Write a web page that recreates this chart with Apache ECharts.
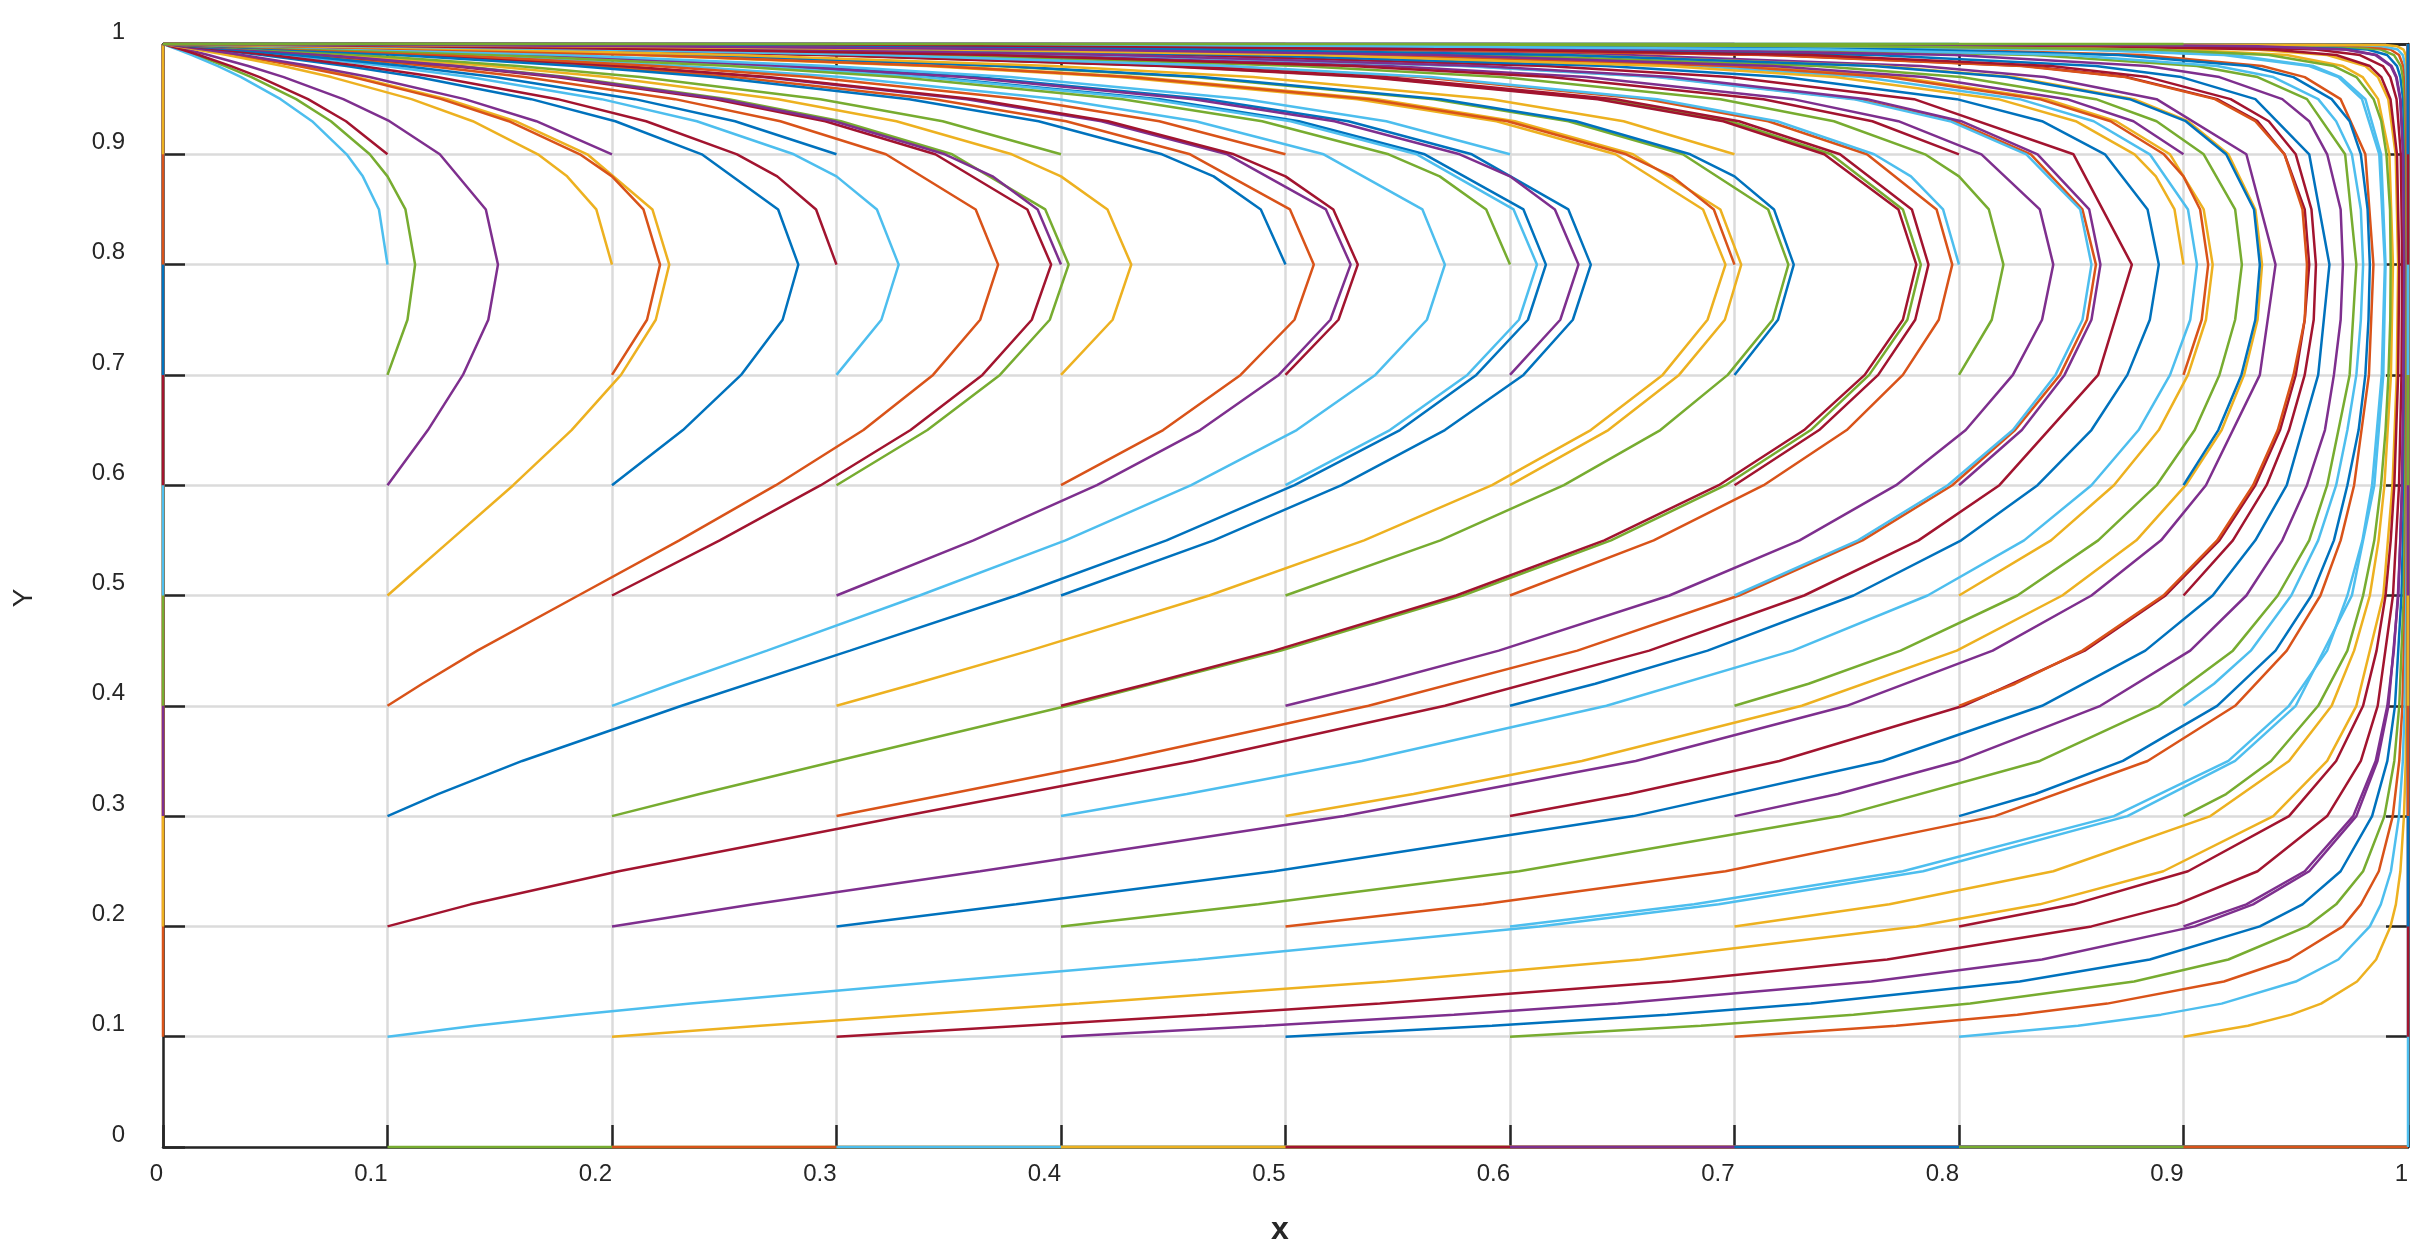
<!DOCTYPE html>
<html>
<head>
<meta charset="utf-8">
<title>Trajectories</title>
<script src="https://cdn.jsdelivr.net/npm/echarts@6.0.0/dist/echarts.min.js"></script>
<style>
  html, body { margin: 0; padding: 0; background: #ffffff; }
  #chart { width: 2436px; height: 1260px; }
</style>
</head>
<body>
<div id="chart"></div>
<script>
// start grid, also the ticks of both axes
const ticks = [0, 0.1, 0.2, 0.3, 0.4, 0.5, 0.6, 0.7, 0.8, 0.9, 1];
const tickLabels = ['0', '0.1', '0.2', '0.3', '0.4', '0.5', '0.6', '0.7', '0.8', '0.9', '1'];
const lineColors = ['#0072BD', '#D95319', '#EDB120', '#7E2F8E', '#77AC30', '#4DBEEE', '#A2142F'];
// every trajectory ends in the corner (0, 1)
const sink = [0, 1];

// row y0 = 0.1 : y levels, then x read at those levels for x0 = 0.1 ... 0.9
const yRow1 = [0.1, 0.11, 0.12, 0.13, 0.15, 0.17, 0.2, 0.22, 0.25, 0.3, 0.35, 0.4, 0.5, 0.6, 0.7, 0.8, 0.9, 0.95, 0.97, 0.98, 0.99, 0.995, 0.998, 0.999];
const xRow1 = [
  [0.1, 0.139, 0.184, 0.235, 0.347, 0.461, 0.613, 0.693, 0.784, 0.875, 0.923, 0.95, 0.975, 0.985, 0.989, 0.99, 0.988, 0.981, 0.97, 0.958, 0.922, 0.858, 0.71, 0.552],
  [0.2, 0.266, 0.336, 0.408, 0.545, 0.658, 0.781, 0.836, 0.891, 0.94, 0.964, 0.977, 0.989, 0.9931, 0.995, 0.9956, 0.9945, 0.9912, 0.9866, 0.981, 0.964, 0.932, 0.846, 0.735],
  [0.3, 0.383, 0.465, 0.542, 0.672, 0.768, 0.859, 0.897, 0.933, 0.964, 0.979, 0.9865, 0.9933, 0.996, 0.9971, 0.9974, 0.9968, 0.9949, 0.9921, 0.9888, 0.9786, 0.959, 0.904, 0.826],
  [0.4, 0.491, 0.575, 0.648, 0.761, 0.837, 0.905, 0.931, 0.956, 0.977, 0.9864, 0.9913, 0.9957, 0.9974, 0.9981, 0.9984, 0.9979, 0.9967, 0.9949, 0.9927, 0.9861, 0.973, 0.936, 0.881],
  [0.5, 0.592, 0.67, 0.734, 0.827, 0.885, 0.934, 0.953, 0.97, 0.984, 0.9908, 0.9942, 0.9971, 0.9983, 0.9987, 0.9989, 0.9986, 0.9978, 0.9966, 0.9951, 0.9907, 0.982, 0.9566, 0.917],
  [0.6, 0.685, 0.753, 0.805, 0.878, 0.92, 0.955, 0.968, 0.98, 0.9895, 0.9939, 0.9961, 0.9981, 0.9988, 0.9992, 0.9993, 0.9991, 0.9985, 0.9977, 0.9968, 0.9938, 0.9879, 0.9706, 0.943],
  [0.7, 0.772, 0.826, 0.866, 0.918, 0.947, 0.971, 0.979, 0.987, 0.9932, 0.9961, 0.9975, 0.9988, 0.9993, 0.9995, 0.9995, 0.9994, 0.999, 0.9986, 0.9979, 0.996, 0.9922, 0.981, 0.9627],
  [0.8, 0.853, 0.89, 0.917, 0.95, 0.969, 0.983, 0.9879, 0.9924, 0.996, 0.9977, 0.9985, 0.9993, 0.9996, 0.9997, 0.9997, 0.9997, 0.9995, 0.9992, 0.9988, 0.9977, 0.9954, 0.9888, 0.978],
  [0.9, 0.9287, 0.948, 0.9613, 0.9773, 0.9858, 0.9922, 0.9946, 0.9966, 0.9982, 0.999, 0.9994, 0.9997, 0.9998, 0.9999, 0.9999, 0.9999, 0.9998, 0.9996, 0.9995, 0.999, 0.998, 0.995, 0.99]
];

const yRow2 = [0.2, 0.22, 0.25, 0.3, 0.35, 0.4, 0.45, 0.5, 0.55, 0.6, 0.7, 0.8, 0.9, 0.95, 0.97, 0.98, 0.99, 0.995, 0.998, 0.999];
const xRow2 = [
  [0.1, 0.137, 0.203, 0.33, 0.459, 0.571, 0.662, 0.731, 0.782, 0.818, 0.862, 0.877, 0.851, 0.78, 0.698, 0.616, 0.455, 0.299, 0.147, 0.08],
  [0.2, 0.263, 0.364, 0.526, 0.656, 0.75, 0.815, 0.859, 0.89, 0.91, 0.934, 0.941, 0.928, 0.888, 0.838, 0.783, 0.652, 0.489, 0.279, 0.163],
  [0.3, 0.38, 0.495, 0.655, 0.766, 0.837, 0.883, 0.913, 0.932, 0.946, 0.96, 0.965, 0.956, 0.932, 0.899, 0.861, 0.763, 0.621, 0.399, 0.25],
  [0.4, 0.488, 0.604, 0.747, 0.836, 0.889, 0.922, 0.942, 0.956, 0.964, 0.974, 0.977, 0.972, 0.955, 0.933, 0.906, 0.833, 0.719, 0.508, 0.342],
  [0.5, 0.588, 0.696, 0.816, 0.884, 0.923, 0.946, 0.961, 0.97, 0.976, 0.9826, 0.9846, 0.981, 0.97, 0.954, 0.935, 0.882, 0.793, 0.608, 0.438],
  [0.6, 0.682, 0.775, 0.869, 0.92, 0.947, 0.964, 0.973, 0.9797, 0.984, 0.9883, 0.9897, 0.9872, 0.9795, 0.969, 0.956, 0.918, 0.852, 0.699, 0.539],
  [0.7, 0.769, 0.842, 0.912, 0.947, 0.966, 0.976, 0.983, 0.9869, 0.9895, 0.9924, 0.9933, 0.9917, 0.9867, 0.9798, 0.971, 0.946, 0.899, 0.783, 0.645],
  [0.8, 0.851, 0.902, 0.947, 0.968, 0.98, 0.986, 0.99, 0.9923, 0.9939, 0.9956, 0.9961, 0.9951, 0.9922, 0.9881, 0.983, 0.968, 0.939, 0.861, 0.757],
  [0.9, 0.928, 0.954, 0.9756, 0.9856, 0.9908, 0.9937, 0.9955, 0.9966, 0.9973, 0.998, 0.9983, 0.9978, 0.9965, 0.9947, 0.9923, 0.9854, 0.972, 0.933, 0.875]
];

const yRow3 = [0.3, 0.32, 0.35, 0.4, 0.45, 0.5, 0.55, 0.6, 0.65, 0.7, 0.75, 0.8, 0.85, 0.9, 0.93, 0.95, 0.97, 0.98, 0.99, 0.995, 0.998, 0.999];
const xRow3 = [
  [0.1, 0.1225, 0.16, 0.231, 0.306, 0.38, 0.447, 0.504, 0.551, 0.585, 0.608, 0.616, 0.606, 0.562, 0.506, 0.444, 0.342, 0.265, 0.158, 0.0875, 0.0374, 0.019],
  [0.2, 0.239, 0.3, 0.403, 0.498, 0.579, 0.645, 0.696, 0.734, 0.76, 0.777, 0.783, 0.775, 0.743, 0.698, 0.642, 0.539, 0.448, 0.297, 0.1775, 0.0803, 0.042],
  [0.3, 0.35, 0.424, 0.537, 0.63, 0.702, 0.757, 0.797, 0.825, 0.845, 0.857, 0.861, 0.855, 0.832, 0.798, 0.755, 0.667, 0.582, 0.42, 0.27, 0.13, 0.07],
  [0.4, 0.456, 0.534, 0.643, 0.726, 0.786, 0.829, 0.859, 0.88, 0.894, 0.903, 0.906, 0.902, 0.885, 0.86, 0.827, 0.757, 0.684, 0.53, 0.365, 0.189, 0.105],
  [0.5, 0.557, 0.632, 0.73, 0.799, 0.846, 0.879, 0.901, 0.917, 0.927, 0.933, 0.935, 0.932, 0.92, 0.902, 0.878, 0.824, 0.765, 0.628, 0.463, 0.259, 0.149],
  [0.6, 0.653, 0.72, 0.802, 0.856, 0.892, 0.916, 0.932, 0.943, 0.95, 0.954, 0.956, 0.954, 0.945, 0.933, 0.915, 0.875, 0.83, 0.717, 0.564, 0.344, 0.208],
  [0.7, 0.746, 0.8, 0.863, 0.903, 0.928, 0.944, 0.955, 0.963, 0.967, 0.97, 0.971, 0.97, 0.964, 0.956, 0.944, 0.916, 0.884, 0.798, 0.668, 0.449, 0.29],
  [0.8, 0.834, 0.873, 0.915, 0.941, 0.957, 0.967, 0.973, 0.978, 0.981, 0.9824, 0.983, 0.982, 0.979, 0.974, 0.966, 0.949, 0.929, 0.871, 0.775, 0.583, 0.412],
  [0.9, 0.919, 0.939, 0.96, 0.973, 0.98, 0.985, 0.988, 0.99, 0.9913, 0.9921, 0.9923, 0.992, 0.9904, 0.9881, 0.9847, 0.977, 0.967, 0.938, 0.886, 0.758, 0.612]
];

const yRow4 = [0.4, 0.42, 0.45, 0.5, 0.55, 0.6, 0.65, 0.7, 0.75, 0.8, 0.85, 0.9, 0.93, 0.95, 0.97, 0.98, 0.99, 0.995, 0.998, 0.999];
const xRow4 = [
  [0.1, 0.1155, 0.14, 0.185, 0.23, 0.273, 0.312, 0.343, 0.364, 0.372, 0.362, 0.322, 0.275, 0.228, 0.161, 0.118, 0.065, 0.0343, 0.0142, 0.0072],
  [0.2, 0.227, 0.269, 0.337, 0.402, 0.458, 0.505, 0.54, 0.563, 0.571, 0.561, 0.517, 0.46, 0.399, 0.302, 0.231, 0.135, 0.0739, 0.0313, 0.016],
  [0.3, 0.335, 0.386, 0.466, 0.535, 0.592, 0.636, 0.668, 0.688, 0.696, 0.686, 0.647, 0.594, 0.532, 0.426, 0.34, 0.211, 0.12, 0.0524, 0.027],
  [0.4, 0.439, 0.495, 0.576, 0.642, 0.693, 0.731, 0.758, 0.775, 0.781, 0.773, 0.74, 0.695, 0.639, 0.536, 0.445, 0.294, 0.175, 0.079, 0.0415],
  [0.5, 0.54, 0.595, 0.671, 0.729, 0.772, 0.803, 0.824, 0.837, 0.842, 0.836, 0.81, 0.773, 0.726, 0.634, 0.546, 0.385, 0.242, 0.114, 0.061],
  [0.6, 0.638, 0.688, 0.753, 0.801, 0.835, 0.859, 0.875, 0.885, 0.889, 0.884, 0.865, 0.837, 0.799, 0.722, 0.643, 0.484, 0.324, 0.162, 0.089],
  [0.7, 0.733, 0.774, 0.826, 0.862, 0.888, 0.905, 0.916, 0.923, 0.926, 0.923, 0.909, 0.888, 0.861, 0.801, 0.737, 0.593, 0.427, 0.232, 0.131],
  [0.8, 0.825, 0.855, 0.891, 0.915, 0.931, 0.942, 0.949, 0.954, 0.955, 0.953, 0.945, 0.932, 0.914, 0.874, 0.828, 0.714, 0.561, 0.341, 0.206],
  [0.9, 0.9136, 0.93, 0.948, 0.96, 0.968, 0.973, 0.977, 0.979, 0.98, 0.979, 0.975, 0.968, 0.96, 0.94, 0.915, 0.849, 0.742, 0.537, 0.368]
];

const yRow5 = [0.5, 0.55, 0.6, 0.65, 0.7, 0.75, 0.8, 0.85, 0.9, 0.93, 0.95, 0.97, 0.98, 0.99, 0.995, 0.998, 0.999];
const xRow5 = [
  [0.1, 0.128, 0.156, 0.182, 0.204, 0.2195, 0.2255, 0.218, 0.189, 0.157, 0.1266, 0.0863, 0.0616, 0.033, 0.0171, 0.007, 0.0035],
  [0.2, 0.248, 0.293, 0.333, 0.365, 0.387, 0.3956, 0.385, 0.344, 0.295, 0.246, 0.175, 0.1286, 0.0712, 0.0377, 0.0156, 0.0079],
  [0.3, 0.361, 0.416, 0.462, 0.497, 0.52, 0.529, 0.518, 0.474, 0.418, 0.358, 0.267, 0.202, 0.116, 0.0629, 0.0264, 0.0134],
  [0.4, 0.468, 0.525, 0.571, 0.606, 0.628, 0.636, 0.626, 0.583, 0.528, 0.465, 0.362, 0.282, 0.17, 0.0946, 0.0406, 0.0208],
  [0.5, 0.569, 0.624, 0.667, 0.697, 0.717, 0.724, 0.715, 0.677, 0.626, 0.566, 0.459, 0.371, 0.235, 0.1355, 0.0596, 0.0309],
  [0.6, 0.664, 0.713, 0.75, 0.775, 0.791, 0.797, 0.79, 0.759, 0.715, 0.661, 0.56, 0.47, 0.315, 0.19, 0.0868, 0.0456],
  [0.7, 0.755, 0.795, 0.824, 0.843, 0.855, 0.859, 0.854, 0.83, 0.796, 0.753, 0.665, 0.579, 0.417, 0.268, 0.129, 0.0692],
  [0.8, 0.841, 0.869, 0.889, 0.902, 0.91, 0.913, 0.909, 0.894, 0.87, 0.839, 0.773, 0.702, 0.551, 0.385, 0.202, 0.113],
  [0.9, 0.922, 0.937, 0.947, 0.954, 0.958, 0.959, 0.957, 0.95, 0.938, 0.921, 0.884, 0.841, 0.734, 0.585, 0.363, 0.223]
];

const yRow6 = [0.6, 0.65, 0.7, 0.75, 0.8, 0.85, 0.9, 0.93, 0.95, 0.97, 0.98, 0.99, 0.995, 0.998, 0.999];
const xRow6 = [
  [0.1, 0.118, 0.1336, 0.1449, 0.1492, 0.1438, 0.1233, 0.1009, 0.0803, 0.0538, 0.038, 0.0202, 0.0105, 0.0042, 0.0021],
  [0.2, 0.2316, 0.2575, 0.276, 0.283, 0.274, 0.24, 0.2015, 0.164, 0.1134, 0.0817, 0.0442, 0.023, 0.0095, 0.0048],
  [0.3, 0.3405, 0.3728, 0.395, 0.4034, 0.393, 0.3515, 0.302, 0.252, 0.18, 0.1322, 0.0735, 0.0389, 0.0161, 0.0082],
  [0.4, 0.4455, 0.48, 0.504, 0.5126, 0.502, 0.4575, 0.4023, 0.3436, 0.2544, 0.1917, 0.1098, 0.0593, 0.0248, 0.0126],
  [0.5, 0.5465, 0.581, 0.604, 0.612, 0.6016, 0.5585, 0.5023, 0.44, 0.3385, 0.2623, 0.156, 0.0863, 0.0368, 0.0188],
  [0.6, 0.6438, 0.6753, 0.6957, 0.703, 0.6937, 0.6548, 0.6022, 0.5409, 0.4342, 0.3478, 0.2171, 0.124, 0.0542, 0.028],
  [0.7, 0.7377, 0.764, 0.7805, 0.7864, 0.779, 0.747, 0.702, 0.647, 0.544, 0.4535, 0.3014, 0.1805, 0.0818, 0.0429],
  [0.8, 0.828, 0.847, 0.859, 0.863, 0.858, 0.835, 0.801, 0.759, 0.672, 0.587, 0.425, 0.274, 0.1325, 0.0712],
  [0.9, 0.9155, 0.9258, 0.932, 0.934, 0.9314, 0.919, 0.901, 0.876, 0.8215, 0.762, 0.6245, 0.459, 0.2557, 0.147]
];

const yRow7 = [0.7, 0.75, 0.8, 0.85, 0.88, 0.9, 0.93, 0.95, 0.97, 0.98, 0.99, 0.995, 0.998, 0.999];
const xRow7 = [
  [0.1, 0.1089, 0.1123, 0.108, 0.1, 0.0921, 0.0748, 0.0593, 0.0394, 0.0277, 0.0146, 0.0076, 0.0031, 0.0015],
  [0.2, 0.2156, 0.2214, 0.214, 0.2, 0.1857, 0.154, 0.124, 0.0845, 0.0602, 0.0323, 0.0167, 0.0069, 0.0035],
  [0.3, 0.32, 0.3277, 0.318, 0.3, 0.281, 0.2378, 0.1953, 0.1365, 0.099, 0.054, 0.0284, 0.0117, 0.0059],
  [0.4, 0.423, 0.4313, 0.4207, 0.4, 0.3781, 0.3267, 0.274, 0.1975, 0.146, 0.0817, 0.0434, 0.018, 0.0092],
  [0.5, 0.5236, 0.5322, 0.5213, 0.5, 0.477, 0.421, 0.3615, 0.2696, 0.204, 0.1177, 0.0638, 0.0268, 0.0136],
  [0.6, 0.6224, 0.6305, 0.62, 0.6, 0.5776, 0.5218, 0.459, 0.3563, 0.2778, 0.1667, 0.0926, 0.0397, 0.0203],
  [0.7, 0.7194, 0.7264, 0.7176, 0.7, 0.6803, 0.6294, 0.5692, 0.4627, 0.3744, 0.2373, 0.1371, 0.0604, 0.0313],
  [0.8, 0.8146, 0.8198, 0.8133, 0.8, 0.7849, 0.7443, 0.6937, 0.5961, 0.5064, 0.3478, 0.214, 0.0993, 0.0524],
  [0.9, 0.9081, 0.911, 0.9074, 0.9, 0.8913, 0.8675, 0.8359, 0.7685, 0.6976, 0.5454, 0.3798, 0.1985, 0.1107]
];

const yRow8 = [0.8, 0.85, 0.88, 0.9, 0.93, 0.95, 0.97, 0.98, 0.99, 0.995, 0.998, 0.999];
const xRow8 = [
  [0.1, 0.0962, 0.089, 0.0818, 0.0664, 0.0524, 0.0348, 0.0245, 0.0129, 0.0066, 0.0027, 0.0014],
  [0.2, 0.193, 0.18, 0.167, 0.138, 0.1107, 0.075, 0.0534, 0.0285, 0.0148, 0.006, 0.003],
  [0.3, 0.2909, 0.2736, 0.2557, 0.2152, 0.1758, 0.122, 0.0881, 0.0478, 0.025, 0.0103, 0.0052],
  [0.4, 0.3896, 0.3695, 0.3483, 0.299, 0.2492, 0.1778, 0.1307, 0.0725, 0.0384, 0.0159, 0.0081],
  [0.5, 0.489, 0.468, 0.445, 0.39, 0.3324, 0.2449, 0.1839, 0.1049, 0.0564, 0.0236, 0.012],
  [0.6, 0.5894, 0.5687, 0.5459, 0.4896, 0.4274, 0.3272, 0.2526, 0.1495, 0.0823, 0.035, 0.0179],
  [0.7, 0.6908, 0.6723, 0.6517, 0.5989, 0.5372, 0.4308, 0.3447, 0.2148, 0.1225, 0.0535, 0.0276],
  [0.8, 0.7929, 0.7786, 0.7622, 0.719, 0.6656, 0.5647, 0.4741, 0.3192, 0.1931, 0.0882, 0.0464],
  [0.9, 0.896, 0.8877, 0.8782, 0.852, 0.8175, 0.7447, 0.6698, 0.5131, 0.35, 0.1789, 0.0986]
];

const yRow9 = [0.9, 0.93, 0.95, 0.97, 0.98, 0.99, 0.995, 0.998, 0.999];
const xRow9 = [
  [0.1, 0.0815, 0.0646, 0.043, 0.0303, 0.016, 0.0083, 0.0034, 0.0017],
  [0.2, 0.1663, 0.1344, 0.0919, 0.0657, 0.0353, 0.0183, 0.0076, 0.0038],
  [0.3, 0.2548, 0.2102, 0.1478, 0.1075, 0.059, 0.031, 0.0128, 0.0065],
  [0.4, 0.3473, 0.2928, 0.2125, 0.1579, 0.0888, 0.0474, 0.0197, 0.01],
  [0.5, 0.4438, 0.383, 0.288, 0.2195, 0.1276, 0.0694, 0.0293, 0.015],
  [0.6, 0.5449, 0.4822, 0.3776, 0.2966, 0.1799, 0.1007, 0.0433, 0.0223],
  [0.7, 0.6506, 0.5917, 0.4856, 0.3962, 0.2544, 0.1484, 0.0659, 0.0342],
  [0.8, 0.7614, 0.7129, 0.618, 0.5294, 0.369, 0.2299, 0.1078, 0.0572],
  [0.9, 0.8777, 0.8481, 0.7844, 0.7167, 0.568, 0.4017, 0.2136, 0.1201]
];

const rowY = [null, yRow1, yRow2, yRow3, yRow4, yRow5, yRow6, yRow7, yRow8, yRow9];
const rowX = [null, xRow1, xRow2, xRow3, xRow4, xRow5, xRow6, xRow7, xRow8, xRow9];

// path for the start point (ticks[i], ticks[j])
function trajectory(i, j) {
  const x0 = ticks[i], y0 = ticks[j];
  const last = ticks.length - 1;
  if (i === 0) return j === last ? [sink] : (j === 0 ? [[0, 0]] : [[0, y0], sink]);
  if (i === last) return [[1, y0], [1, 1]];
  if (j === 0) return [[x0, 0], [1, 0]];
  if (j === last) return [[x0, 1], sink];
  const ys = rowY[j], xs = rowX[j][i - 1];
  const pts = [];
  for (let k = 0; k < Math.min(ys.length, xs.length); k++) pts.push([xs[k], ys[k]]);
  pts.push(sink);
  return pts;
}

const series = [];
let n = 0;
for (let i = 0; i < ticks.length; i++) {
  for (let j = 0; j < ticks.length; j++) {
    const color = lineColors[n % lineColors.length];
    n++;
    series.push({
      type: 'line',
      data: trajectory(i, j),
      showSymbol: false,
      symbol: 'none',
      clip: false,
      silent: true,
      lineStyle: { color: color, width: 2.5 },
      itemStyle: { color: color }
    });
  }
}

const axisColor = '#262626';
const labelFont = '"Liberation Sans", Arial, Helvetica, sans-serif';

const chart = echarts.init(document.getElementById('chart'));
chart.setOption({
  animation: false,
  backgroundColor: '#ffffff',
  grid: { left: 163, right: 28, top: 44, bottom: 113, containLabel: false },
  xAxis: [
    {
      type: 'value', min: 0, max: 1, interval: 0.1, position: 'bottom',
      axisLine: { show: true, onZero: false, lineStyle: { color: axisColor, width: 2.5 } },
      axisTick: { show: true, inside: true, length: 22, lineStyle: { color: axisColor, width: 2.5 } },
      axisLabel: {
        color: axisColor, fontSize: 24, fontFamily: labelFont, align: 'right', margin: 15,
        formatter: v => tickLabels[Math.round(v * 10)]
      },
      splitLine: { show: true, lineStyle: { color: '#dbdbdb', width: 2.5 } }
    },
    {
      type: 'value', min: 0, max: 1, interval: 0.1, position: 'top',
      axisLine: { show: true, onZero: false, lineStyle: { color: axisColor, width: 2.5 } },
      axisTick: { show: true, inside: true, length: 22, lineStyle: { color: axisColor, width: 2.5 } },
      axisLabel: { show: false },
      splitLine: { show: false }
    }
  ],
  yAxis: [
    {
      type: 'value', min: 0, max: 1, interval: 0.1, position: 'left',
      axisLine: { show: true, onZero: false, lineStyle: { color: axisColor, width: 2.5 } },
      axisTick: { show: true, inside: true, length: 22, lineStyle: { color: axisColor, width: 2.5 } },
      axisLabel: {
        color: axisColor, fontSize: 24, fontFamily: labelFont, margin: 38, verticalAlign: 'bottom',
        formatter: v => tickLabels[Math.round(v * 10)]
      },
      splitLine: { show: true, lineStyle: { color: '#dbdbdb', width: 2.5 } }
    },
    {
      type: 'value', min: 0, max: 1, interval: 0.1, position: 'right',
      axisLine: { show: true, onZero: false, lineStyle: { color: axisColor, width: 2.5 } },
      axisTick: { show: true, inside: true, length: 22, lineStyle: { color: axisColor, width: 2.5 } },
      axisLabel: { show: false },
      splitLine: { show: false }
    }
  ],
  graphic: [
    {
      type: 'text', x: 24, y: 598, rotation: Math.PI / 2,
      style: {
        text: 'Y', fill: axisColor, font: '28px ' + labelFont,
        textAlign: 'center', textVerticalAlign: 'middle', align: 'center', verticalAlign: 'middle'
      }
    },
    {
      type: 'text', x: 1280, y: 1230,
      style: {
        text: 'x', fill: axisColor, font: 'bold 32px ' + labelFont,
        textAlign: 'center', textVerticalAlign: 'middle', align: 'center', verticalAlign: 'middle'
      }
    }
  ],
  series: series
});
</script>
</body>
</html>
